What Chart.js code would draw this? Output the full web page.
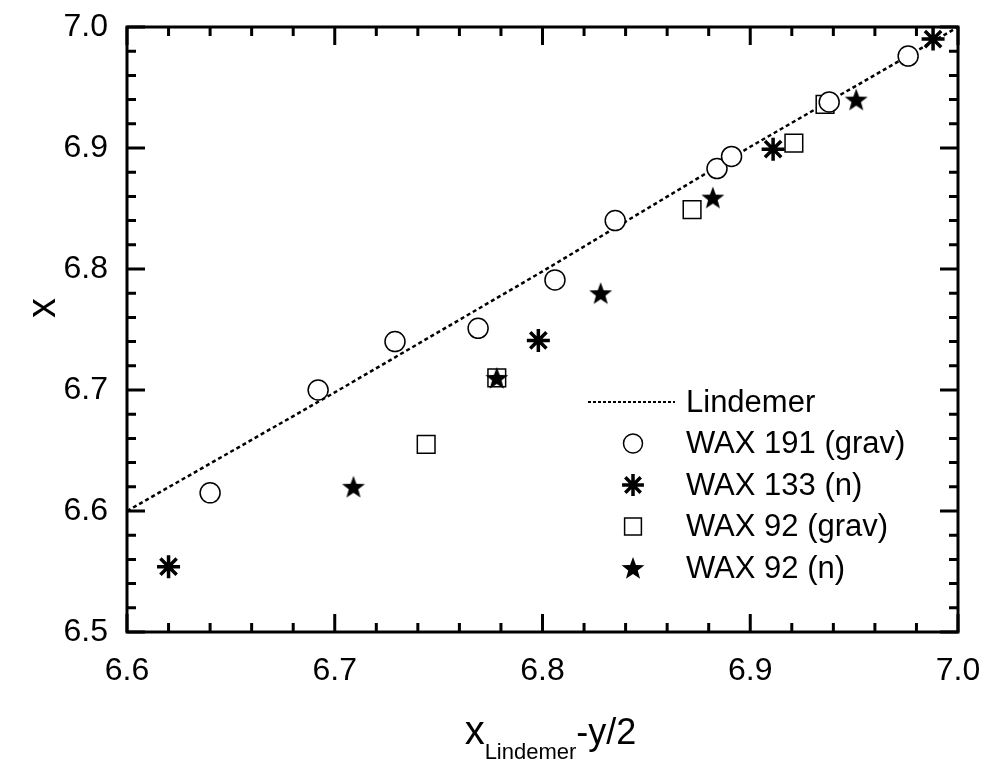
<!DOCTYPE html>
<html lang="en">
<head>
  <meta charset="UTF-8">
  <title>x vs x_Lindemer - y/2</title>
  <script src="https://cdn.jsdelivr.net/npm/chart.js"></script>
  <style>
    body { margin: 0; background: #fff; }
    #wrap { width: 984px; height: 762px; }
  </style>
</head>
<body>
  <div id="wrap"><canvas id="myChart" width="984" height="762"></canvas></div>

  <script>
    // axis ranges
    const xRange = [6.6, 7.0];
    const yRange = [6.5, 7.0];

    // Lindemer reference line
    const lindemerX = [6.6, 6.7, 6.8, 6.9, 7.0];
    const lindemerY = [6.6, 6.698, 6.798, 6.901, 7.0];

    // WAX 191 (grav)
    const wax191X = [6.640, 6.692, 6.729, 6.769, 6.806, 6.835, 6.884, 6.891, 6.938, 6.976];
    const wax191Y = [6.615, 6.700, 6.740, 6.751, 6.791, 6.840, 6.883, 6.893, 6.938, 6.976];

    // WAX 133 (n)
    const wax133X = [6.620, 6.798, 6.911, 6.988];
    const wax133Y = [6.554, 6.741, 6.899, 6.990];

    // WAX 92 (grav)
    const wax92gX = [6.744, 6.778, 6.872, 6.921, 6.936];
    const wax92gY = [6.655, 6.710, 6.849, 6.904, 6.936];

    // WAX 92 (n)
    const wax92nX = [6.709, 6.778, 6.828, 6.882, 6.951];
    const wax92nY = [6.620, 6.710, 6.780, 6.859, 6.940];

    const FONT = "'Liberation Sans', Arial, sans-serif";

    function pairs(xs, ys) {
      return xs.map((x, i) => ({ x: x, y: ys[i] }));
    }

    // filled five-point star used as a point style
    function makeStar(outer, inner) {
      const size = Math.ceil(outer * 2 + 2);
      const c = document.createElement('canvas');
      c.width = size;
      c.height = size;
      const g = c.getContext('2d');
      g.translate(size / 2, size / 2 + 1);
      g.beginPath();
      for (let i = 0; i < 10; i++) {
        const r = i % 2 === 0 ? outer : inner;
        const a = -Math.PI / 2 + i * Math.PI / 5;
        g.lineTo(r * Math.cos(a), r * Math.sin(a));
      }
      g.closePath();
      g.fillStyle = '#000';
      g.fill();
      return c;
    }
    const starImg = makeStar(12, 5);

    const series = [
      { label: 'Lindemer', line: true },
      { label: 'WAX 191 (grav)', style: 'circle', radius: 10, bw: 1.5, fill: '#fff' },
      { label: 'WAX 133 (n)', style: 'star', radius: 11.5, bw: 3.5, fill: '#000' },
      { label: 'WAX 92 (grav)', style: 'rect', radius: 12.5, bw: 1.5, fill: '#fff' },
      { label: 'WAX 92 (n)', style: starImg, radius: 12, bw: 0, fill: '#000' }
    ];

    // frame with inward major/minor ticks on all four sides
    const framePlugin = {
      id: 'frame',
      beforeDatasetsDraw(chart) {
        const { ctx, chartArea: a, scales } = chart;
        const xs = scales.x, ys = scales.y;
        ctx.save();
        ctx.strokeStyle = '#000';
        ctx.lineWidth = 3;
        ctx.lineCap = 'square';
        ctx.strokeRect(a.left, a.top, a.right - a.left, a.bottom - a.top);
        ctx.lineCap = 'butt';
        for (let i = 0; i <= 20; i++) {
          const px = xs.getPixelForValue(xRange[0] + i * 0.02);
          const len = i % 5 === 0 ? 18 : 9;
          ctx.beginPath();
          ctx.moveTo(px, a.bottom); ctx.lineTo(px, a.bottom - len);
          ctx.moveTo(px, a.top); ctx.lineTo(px, a.top + len);
          ctx.stroke();
        }
        for (let i = 0; i <= 25; i++) {
          const py = ys.getPixelForValue(yRange[0] + i * 0.02);
          const len = i % 5 === 0 ? 18 : 9;
          ctx.beginPath();
          ctx.moveTo(a.left, py); ctx.lineTo(a.left + len, py);
          ctx.moveTo(a.right, py); ctx.lineTo(a.right - len, py);
          ctx.stroke();
        }
        ctx.restore();
      }
    };

    // axis titles (x title carries a subscript)
    const titlePlugin = {
      id: 'titles',
      afterDraw(chart) {
        const { ctx, chartArea: a } = chart;
        ctx.save();
        ctx.fillStyle = '#000';
        ctx.textBaseline = 'alphabetic';

        // y title
        ctx.save();
        ctx.translate(a.left - 72, a.top + 281);
        ctx.rotate(-Math.PI / 2);
        ctx.font = '40px ' + FONT;
        ctx.textAlign = 'center';
        ctx.fillText('x', 0, 0);
        ctx.restore();

        // x title
        const parts = [
          { t: 'x', f: '40px ' + FONT, dy: 0 },
          { t: 'Lindemer', f: '22px ' + FONT, dy: 15 },
          { t: '-y/2', f: '36px ' + FONT, dy: 0 }
        ];
        let total = 0;
        parts.forEach(p => { ctx.font = p.f; p.w = ctx.measureText(p.t).width; total += p.w; });
        let x = (a.left + a.right) / 2 + 8 - total / 2;
        const base = a.bottom + 112;
        ctx.textAlign = 'left';
        parts.forEach(p => {
          ctx.font = p.f;
          ctx.fillText(p.t, x, base + p.dy);
          x += p.w;
        });
        ctx.restore();
      }
    };

    // legend box inside the lower right of the plot
    const legendPlugin = {
      id: 'insideLegend',
      afterDraw(chart) {
        const { ctx, chartArea: a } = chart;
        const x0 = a.left + 461;
        const y0 = a.top + 375;
        const rowH = 41.5;
        ctx.save();
        ctx.font = '31px ' + FONT;
        ctx.textBaseline = 'middle';
        ctx.textAlign = 'left';
        series.forEach((s, i) => {
          const y = y0 + i * rowH;
          if (s.line) {
            ctx.strokeStyle = '#000';
            ctx.lineWidth = 2;
            ctx.setLineDash([3, 2]);
            ctx.beginPath();
            ctx.moveTo(x0, y); ctx.lineTo(x0 + 87, y);
            ctx.stroke();
            ctx.setLineDash([]);
          } else {
            ctx.fillStyle = s.fill;
            ctx.strokeStyle = '#000';
            ctx.lineWidth = s.bw;
            Chart.helpers.drawPoint(ctx, {
              pointStyle: s.style,
              radius: s.radius * 0.95,
              rotation: 0,
              borderWidth: s.bw
            }, x0 + 45, y);
          }
          ctx.fillStyle = '#000';
          ctx.fillText(s.label, x0 + 98, y + 1);
        });
        ctx.restore();
      }
    };

    const pointSets = [
      [wax191X, wax191Y],
      [wax133X, wax133Y],
      [wax92gX, wax92gY],
      [wax92nX, wax92nY]
    ];
    // draw order: stars on top, then asterisks, circles, squares, line underneath
    const drawOrder = [2, 1, 3, 0];

    const datasets = [{
      label: series[0].label,
      data: pairs(lindemerX, lindemerY),
      showLine: true,
      borderColor: '#000',
      borderWidth: 2.5,
      borderDash: [4, 3],
      pointRadius: 0,
      order: 9,
      clip: false
    }];
    pointSets.forEach((p, i) => {
      const s = series[i + 1];
      datasets.push({
        label: s.label,
        data: pairs(p[0], p[1]),
        pointStyle: s.style,
        pointRadius: s.radius,
        pointHoverRadius: s.radius,
        pointBorderWidth: s.bw,
        borderColor: '#000',
        backgroundColor: s.fill,
        order: drawOrder[i],
        clip: false
      });
    });

    new Chart(document.getElementById('myChart'), {
      type: 'scatter',
      data: { datasets: datasets },
      plugins: [framePlugin, titlePlugin, legendPlugin],
      options: {
        responsive: false,
        animation: false,
        events: [],
        layout: { padding: { left: 0, top: 27, right: 26, bottom: 0 } },
        plugins: {
          legend: { display: false },
          tooltip: { enabled: false }
        },
        scales: {
          x: {
            type: 'linear',
            min: xRange[0],
            max: xRange[1],
            grid: { display: false },
            border: { display: false },
            ticks: {
              stepSize: 0.1,
              padding: 12,
              color: '#000',
              font: { family: FONT, size: 32 },
              callback: v => v.toFixed(1)
            },
            afterFit: s => {
              s.height = 130;
              s.paddingLeft = 0;
              s.paddingRight = 0;
            }
          },
          y: {
            type: 'linear',
            min: yRange[0],
            max: yRange[1],
            grid: { display: false, drawTicks: false },
            border: { display: false },
            ticks: {
              stepSize: 0.1,
              padding: 19,
              color: '#000',
              font: { family: FONT, size: 32 },
              callback: v => v.toFixed(1)
            },
            afterFit: s => {
              s.width = 127;
              s.paddingTop = 0;
              s.paddingBottom = 0;
            }
          }
        }
      }
    });
  </script>
</body>
</html>
